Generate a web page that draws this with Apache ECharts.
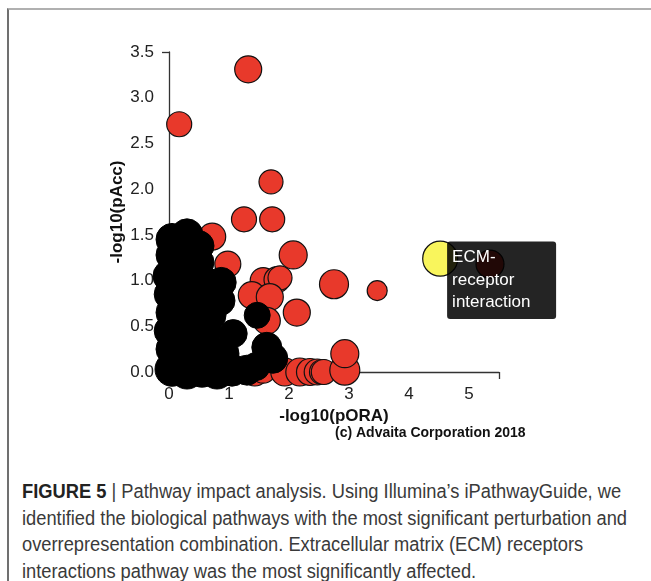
<!DOCTYPE html>
<html>
<head>
<meta charset="utf-8">
<script src="https://cdn.jsdelivr.net/npm/echarts@6/dist/echarts.min.js"></script>
<style>
  html, body { margin: 0; padding: 0; background: #fff; overflow: hidden; }
  .frame {
    position: absolute; left: 7px; top: 8px; width: 660px; height: 600px;
    border-top: 2px solid #b0b0b0; border-left: 2px solid #707070;
  }
  #chart { position: absolute; left: 0; top: 0; width: 651px; height: 460px; }
  .caption {
    position: absolute; left: 22px; top: 478px;
    font-family: "Liberation Sans", Arial, sans-serif;
    font-size: 20px; line-height: 26.5px; color: #3a3a3a; white-space: nowrap;
    transform-origin: 0 0;
  }
  .caption b { font-weight: bold; color: #222; }
  .caption span { display: inline-block; }
</style>
</head>
<body>
<div class="frame"></div>
<div id="chart"></div>
<div class="caption" id="caption">
  <span><b>FIGURE 5</b> | Pathway impact analysis. Using Illumina’s iPathwayGuide, we</span><br>
  <span>identified the biological pathways with the most significant perturbation and</span><br>
  <span>overrepresentation combination. Extracellular matrix (ECM) receptors</span><br>
  <span>interactions pathway was the most significantly affected.</span>
</div>
<script>
// [ -log10(pORA), -log10(pAcc), bubble size ]
const redPoints = [
  [1.32, 3.31, 27], [0.17, 2.71, 25], [1.70, 2.08, 24], [1.25, 1.67, 25],
  [1.72, 1.67, 25], [2.07, 1.28, 28], [0.72, 1.48, 27], [0.98, 1.18, 26],
  [2.75, 0.96, 29], [3.47, 0.89, 20], [1.57, 1.00, 26], [1.80, 1.01, 26],
  [1.85, 1.03, 24], [1.38, 0.84, 27], [1.68, 0.82, 27], [1.63, 0.56, 27],
  [2.13, 0.65, 27], [1.43, 0.00, 28], [1.57, 0.02, 26], [1.93, 0.00, 28],
  [2.18, 0.00, 28], [2.35, 0.00, 27], [2.47, 0.00, 26], [2.55, 0.00, 25],
  [2.58, 0.00, 25], [2.93, 0.02, 30], [2.93, 0.20, 28], [5.35, 1.18, 28]
];
const blackPoints = [
  [0.05, 1.45, 32], [0.30, 1.50, 32], [0.50, 1.38, 30], [0.05, 1.28, 32],
  [0.30, 1.22, 32], [0.50, 1.20, 30], [0.00, 1.05, 32], [0.25, 1.00, 32],
  [0.55, 1.00, 32], [0.87, 0.98, 30], [0.02, 0.85, 32], [0.30, 0.80, 32],
  [0.60, 0.80, 32], [0.85, 0.78, 30], [0.05, 0.65, 32], [0.35, 0.60, 32],
  [0.70, 0.62, 30], [1.47, 0.62, 26], [0.02, 0.45, 32], [0.30, 0.42, 32],
  [0.60, 0.45, 32], [1.07, 0.42, 28], [0.05, 0.25, 32], [0.30, 0.22, 32],
  [0.60, 0.22, 32], [0.90, 0.20, 32], [1.63, 0.27, 30], [1.73, 0.15, 30],
  [0.05, 0.03, 34], [0.30, 0.00, 34], [0.55, 0.02, 34], [0.80, 0.00, 34],
  [1.05, 0.02, 32], [1.30, 0.02, 30], [1.45, 0.06, 28]
];
const highlightPoints = [[4.52, 1.24, 35]];
const highlightName = "ECM-\nreceptor\ninteraction";
const xTicks = [0, 1, 2, 3, 4, 5];
const yTicks = [0, 0.5, 1, 1.5, 2, 2.5, 3, 3.5];

const chart = echarts.init(document.getElementById("chart"));

const font = "'Liberation Sans', Arial, sans-serif";
const axisColor = "#333";

const option = {
  animation: false,
  grid: { left: 169, right: 152, top: 52, bottom: 88 },
  xAxis: {
    type: "value",
    min: 0,
    max: 5.5,
    name: "-log10(pORA)",
    nameLocation: "middle",
    nameGap: 30,
    nameTextStyle: { fontFamily: font, fontWeight: "bold", fontSize: 17, color: "#111" },
    splitLine: { show: false },
    axisLine: { lineStyle: { color: axisColor, width: 1.3 } },
    axisTick: { customValues: [0, 5.5], length: 7, lineStyle: { color: axisColor, width: 1.3 } },
    axisLabel: { customValues: xTicks, margin: 14, fontFamily: font, fontSize: 17, color: "#222" },
  },
  yAxis: {
    type: "value",
    min: 0,
    max: 3.5,
    name: "-log10(pAcc)",
    nameLocation: "middle",
    nameGap: 43,
    nameMoveOverlap: false,
    nameTextStyle: { fontFamily: font, fontWeight: "bold", fontSize: 17, color: "#111" },
    splitLine: { show: false },
    axisLine: { lineStyle: { color: axisColor, width: 1.3 } },
    axisTick: { customValues: [0, 3.5], length: 7, lineStyle: { color: axisColor, width: 1.3 } },
    axisLabel: {
      customValues: yTicks, margin: 15, fontFamily: font, fontSize: 17, color: "#222",
      formatter: (v) => v.toFixed(1),
    },
  },
  graphic: [
    {
      type: "text",
      left: 335,
      top: 426,
      style: { text: "(c) Advaita Corporation 2018", font: "bold 14px " + font, fill: "#111" },
    },
  ],
  series: [
    {
      name: "other",
      type: "scatter",
      z: 2,
      data: redPoints,
      symbolSize: (v) => v[2],
      itemStyle: { color: "#e8392b", borderColor: "#111", borderWidth: 1.2, opacity: 1 },
    },
    {
      name: "nonsignificant",
      type: "scatter",
      z: 3,
      data: blackPoints,
      symbolSize: (v) => v[2],
      itemStyle: { color: "#000", borderColor: "#000", borderWidth: 1, opacity: 1 },
    },
    {
      name: "highlight",
      type: "scatter",
      z: 4,
      data: highlightPoints,
      symbolSize: (v) => v[2],
      itemStyle: { color: "#f9f55c", borderColor: "#111", borderWidth: 1.2, opacity: 1 },
      label: {
        show: true,
        formatter: highlightName,
        position: [25, 1],
        width: 98,
        padding: [5, 6, 5, 5],
        lineHeight: 22.5,
        fontFamily: font,
        fontSize: 17,
        color: "#fff",
        backgroundColor: "rgba(0,0,0,0.86)",
        borderRadius: 3,
      },
    },
  ],
};

chart.setOption(option);

// squeeze the caption to the condensed width of the original figure
const caption = document.getElementById("caption");
let widest = 0;
caption.querySelectorAll("span").forEach((s) => { widest = Math.max(widest, s.getBoundingClientRect().width); });
if (widest > 0) caption.style.transform = "scaleX(" + (605 / widest) + ")";
</script>
</body>
</html>
